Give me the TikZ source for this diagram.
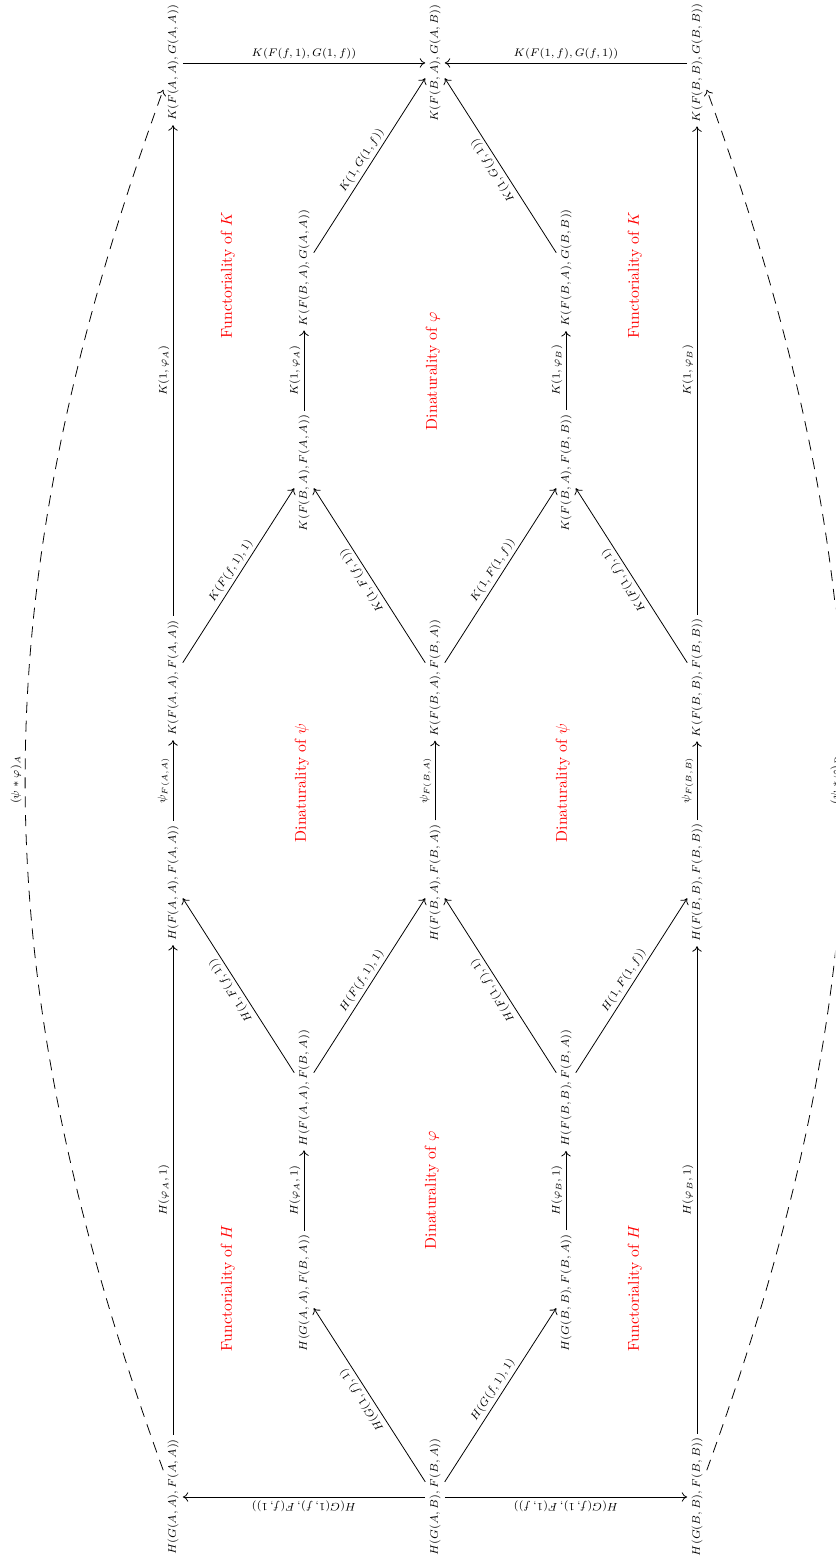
\documentclass[tikz,border=0pt]{standalone}
\usetikzlibrary{arrows.meta}
\begin{document}
\begin{tikzpicture}[x=0.635pt,y=0.635pt,
  obj/.style={rotate=90, font=\scriptsize, inner sep=2.5pt},
  mor/.style={-{Computer Modern Rightarrow[length=3.5pt,width=6pt]}, line width=0.5pt},
  lab/.style={font=\scriptsize, sloped, allow upside down, above, inner sep=2pt},
  note/.style={rotate=90, text=red},
  dashmor/.style={mor, dash pattern=on 7pt off 5pt},
]
\clip (0,0) rectangle (835,1561);
% row 0
\node[obj] (kAA) at (173,1498) {$K(F(A,A),G(A,A))$};
\node[obj] (kAB) at (435,1498) {$K(F(B,A),G(A,B))$};
\node[obj] (kBB) at (697,1498) {$K(F(B,B),G(B,B))$};
% row 1
\node[obj] (kBAGAA) at (304,1293) {$K(F(B,A),G(A,A))$};
\node[obj] (kBAGBB) at (566,1293) {$K(F(B,A),G(B,B))$};
% row 2
\node[obj] (kBAFAA) at (304,1088) {$K(F(B,A),F(A,A))$};
\node[obj] (kBAFBB) at (566,1088) {$K(F(B,A),F(B,B))$};
% row 3
\node[obj] (kFAA) at (173,883) {$K(F(A,A),F(A,A))$};
\node[obj] (kFBA) at (435,883) {$K(F(B,A),F(B,A))$};
\node[obj] (kFBB) at (697,883) {$K(F(B,B),F(B,B))$};
% row 4
\node[obj] (hFAA) at (173,678) {$H(F(A,A),F(A,A))$};
\node[obj] (hFBA) at (435,678) {$H(F(B,A),F(B,A))$};
\node[obj] (hFBB) at (697,678) {$H(F(B,B),F(B,B))$};
% row 5
\node[obj] (hFAAFBA) at (304,473) {$H(F(A,A),F(B,A))$};
\node[obj] (hFBBFBA) at (566,473) {$H(F(B,B),F(B,A))$};
% row 6
\node[obj] (hGAAFBA) at (304,268) {$H(G(A,A),F(B,A))$};
\node[obj] (hGBBFBA) at (566,268) {$H(G(B,B),F(B,A))$};
% row 7
\node[obj] (hGAA) at (173,64) {$H(G(A,A),F(A,A))$};
\node[obj] (hGAB) at (435,64) {$H(G(A,B),F(B,A))$};
\node[obj] (hGBB) at (697,64) {$H(G(B,B),F(B,B))$};

% top row arrows
\draw[mor] (kAA) -- node[font=\scriptsize, above, inner sep=2pt] {$K(F(f,1),G(1,f))$} (kAB);
\draw[mor] (kBB) -- node[font=\scriptsize, above, inner sep=2pt] {$K(F(1,f),G(f,1))$} (kAB);
% bottom row arrows
\draw[mor] (hGAB) -- node[lab] {$H(G(1,f),F(f,1))$} (hGAA);
\draw[mor] (hGAB) -- node[font=\scriptsize, rotate=180, anchor=south, inner sep=2pt] {$H(G(f,1),F(1,f))$} (hGBB);

% left column
\draw[mor] (hGAA) -- node[lab] {$H(\varphi_A,1)$} (hFAA);
\draw[mor] (hFAA) -- node[lab] {$\psi_{F(A,A)}$} (kFAA);
\draw[mor] (kFAA) -- node[lab] {$K(1,\varphi_A)$} (kAA);
% right column
\draw[mor] (hGBB) -- node[lab] {$H(\varphi_B,1)$} (hFBB);
\draw[mor] (hFBB) -- node[lab] {$\psi_{F(B,B)}$} (kFBB);
\draw[mor] (kFBB) -- node[lab] {$K(1,\varphi_B)$} (kBB);
% centre column
\draw[mor] (hFBA) -- node[lab] {$\psi_{F(B,A)}$} (kFBA);

% H part
\draw[mor] (hGAB) -- node[lab] {$H(G(1,f),1)$} (hGAAFBA);
\draw[mor] (hGAB) -- node[lab] {$H(G(f,1),1)$} (hGBBFBA);
\draw[mor] (hGAAFBA) -- node[lab] {$H(\varphi_A,1)$} (hFAAFBA);
\draw[mor] (hGBBFBA) -- node[lab] {$H(\varphi_B,1)$} (hFBBFBA);
\draw[mor] (hFAAFBA) -- node[lab] {$H(1,F(f,1))$} (hFAA);
\draw[mor] (hFAAFBA) -- node[lab] {$H(F(f,1),1)$} (hFBA);
\draw[mor] (hFBBFBA) -- node[lab] {$H(F(1,f),1)$} (hFBA);
\draw[mor] (hFBBFBA) -- node[lab] {$H(1,F(1,f))$} (hFBB);

% K part
\draw[mor] (kFAA) -- node[lab] {$K(F(f,1),1)$} (kBAFAA);
\draw[mor] (kFBA) -- node[lab] {$K(1,F(f,1))$} (kBAFAA);
\draw[mor] (kFBA) -- node[lab] {$K(1,F(1,f))$} (kBAFBB);
\draw[mor] (kFBB) -- node[lab] {$K(F(1,f),1)$} (kBAFBB);
\draw[mor] (kBAFAA) -- node[lab] {$K(1,\varphi_A)$} (kBAGAA);
\draw[mor] (kBAFBB) -- node[lab] {$K(1,\varphi_B)$} (kBAGBB);
\draw[mor] (kBAGAA) -- node[lab] {$K(1,G(1,f))$} (kAB);
\draw[mor] (kBAGBB) -- node[lab] {$K(1,G(f,1))$} (kAB);

% dashed composites
\draw[dashmor] (hGAA) to[bend left=20] node[lab] {$(\psi*\varphi)_A$} (kAA);
\draw[dashmor] (hGBB) to[bend right=20] node[lab] {$(\psi*\varphi)_B$} (kBB);

% region notes
\node[note] (n1) at (228,1286) {Functoriality of $K$};
\node[note] (n2) at (433,1190) {Dinaturality of $\varphi$};
\node[note] (n3) at (635,1286) {Functoriality of $K$};
\node[note] (n4) at (302,778) {Dinaturality of $\psi$};
\node[note] (n5) at (563,778) {Dinaturality of $\psi$};
\node[note] (n6) at (432,371) {Dinaturality of $\varphi$};
\node[note] (n7) at (228,273) {Functoriality of $H$};
\node[note] (n8) at (635,273) {Functoriality of $H$};
\end{tikzpicture}
\end{document}
